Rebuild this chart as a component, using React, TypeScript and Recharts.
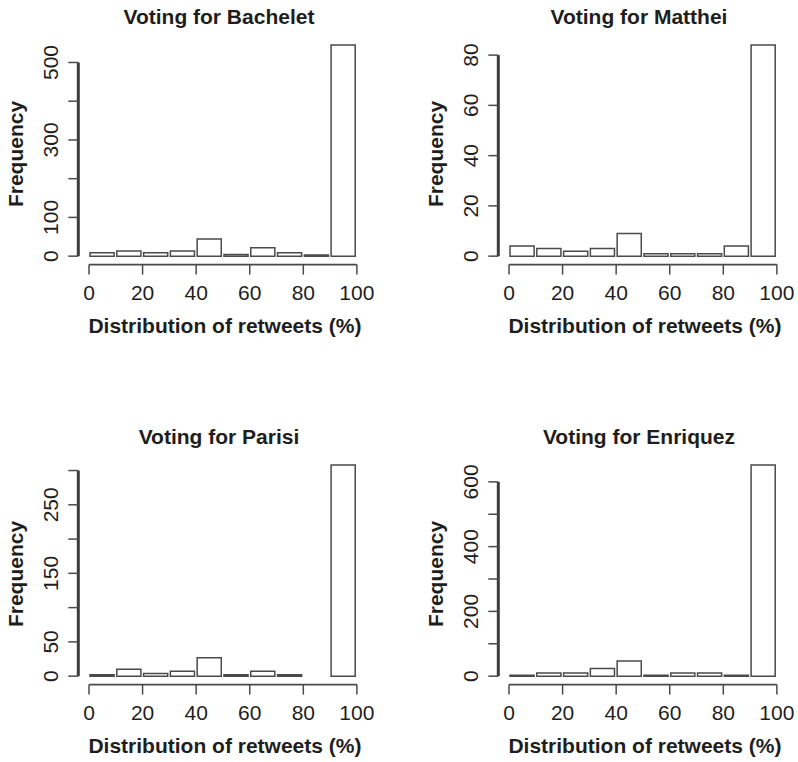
import React from 'react';
import { BarChart, Bar, XAxis, YAxis, ReferenceLine } from 'recharts';

// histogram bins (percent of retweets), given by their centres
const binMids = [5, 15, 25, 35, 45, 55, 65, 75, 85, 95];
const xTicks = [0, 20, 40, 60, 80, 100];

// frequencies
const bacheletCounts = [9, 13, 9, 13, 44, 4, 22, 9, 3, 545];
const mattheiCounts = [4, 3, 2, 3, 9, 1, 1, 1, 4, 84];
const parisiCounts = [2, 10, 4, 7, 27, 2, 7, 2, 0, 308];
const enriquezCounts = [3, 10, 10, 24, 47, 3, 10, 10, 3, 652];

// y ticks, and which of them R printed a label for
const bacheletTicks = [0, 100, 200, 300, 400, 500];
const bacheletLabels = [0, 100, 300, 500];
const mattheiTicks = [0, 20, 40, 60, 80];
const mattheiLabels = [0, 20, 40, 60, 80];
const parisiTicks = [0, 50, 100, 150, 200, 250, 300];
const parisiLabels = [0, 50, 150, 250];
const enriquezTicks = [0, 100, 200, 300, 400, 500, 600];
const enriquezLabels = [0, 200, 400, 600];

const FONT = '"Liberation Sans", Arial, Helvetica, sans-serif';
const INK = '#1e1e1e';
const LINE = '#4a4a4a';

const CHART_W = 378;
const CHART_H = 342;
const PLOT_LEFT = 78.3;
const PLOT_TOP = 36.6;
const PLOT_W = 289.3;
const PLOT_H = 228;
const XAXIS_H = 60;
const BIN_PX = (PLOT_W * 10) / 108;

function Panel({ title, counts, yTicks, yLabels, left, top }: any) {
  const data = binMids.map((mid, i) => ({ mid, count: counts[i] }));
  const maxCount = Math.max(...counts);
  const yMin = -0.04 * maxCount;
  const yMax = 1.04 * maxCount;
  const topTick = yTicks[yTicks.length - 1];

  // R prints only the tick labels that fit; the others keep their tick mark
  const yTick = (props: any) => {
    const { x, y, payload } = props;
    if (!yLabels.includes(payload.value)) return <g />;
    return (
      <text
        x={x}
        y={y}
        transform={`rotate(-90, ${x}, ${y})`}
        textAnchor="middle"
        fontFamily={FONT}
        fontSize={21}
        fill={INK}
      >
        {payload.value}
      </text>
    );
  };

  const cx = PLOT_LEFT + PLOT_W / 2;

  return (
    <div style={{ position: 'absolute', left, top, width: CHART_W, height: CHART_H }}>
      <BarChart
        width={CHART_W}
        height={CHART_H}
        data={data}
        margin={{ top: PLOT_TOP, right: CHART_W - PLOT_LEFT - PLOT_W, bottom: CHART_H - PLOT_TOP - PLOT_H - XAXIS_H, left: 0 }}
        barCategoryGap={0}
        barGap={0}
      >
        <XAxis
          dataKey="mid"
          type="number"
          domain={[-4, 104]}
          allowDataOverflow
          ticks={xTicks}
          interval={0}
          height={XAXIS_H}
          axisLine={false}
          tickLine={{ stroke: LINE, strokeWidth: 1.5 }}
          tickSize={10}
          tickMargin={10}
          tick={{ fontSize: 21, fontFamily: FONT, fill: INK }}
        />
        <YAxis
          type="number"
          domain={[yMin, yMax]}
          allowDataOverflow
          ticks={yTicks}
          interval={0}
          width={PLOT_LEFT}
          axisLine={false}
          tickLine={{ stroke: LINE, strokeWidth: 1.5 }}
          tickSize={10}
          tickMargin={10}
          tick={yTick}
        />
        <Bar
          dataKey="count"
          barSize={BIN_PX}
          fill="#ffffff"
          stroke={LINE}
          strokeWidth={1.5}
          isAnimationActive={false}
        />
        {/* axis lines span the tick range only, as in base R */}
        <ReferenceLine
          segment={[{ x: 0, y: yMin }, { x: 100, y: yMin }]}
          stroke={LINE}
          strokeWidth={1.6}
          ifOverflow="visible"
        />
        <ReferenceLine
          segment={[{ x: -4, y: 0 }, { x: -4, y: topTick }]}
          stroke="#3c3c3c"
          strokeWidth={3}
          ifOverflow="visible"
        />
      </BarChart>
      <svg
        width={CHART_W}
        height={CHART_H}
        style={{ position: 'absolute', left: 0, top: 0, pointerEvents: 'none' }}
      >
        <text x={cx - 4} y={23.5} textAnchor="middle" fontFamily={FONT} fontSize={21} fontWeight="bold" fill={INK}>
          {title}
        </text>
        <text x={cx + 2} y={333} textAnchor="middle" fontFamily={FONT} fontSize={21} fontWeight="bold" fill={INK}>
          Distribution of retweets (%)
        </text>
        <text
          x={22.5}
          y={154}
          transform="rotate(-90, 22.5, 154)"
          textAnchor="middle"
          fontFamily={FONT}
          fontSize={21}
          fontWeight="bold"
          fill={INK}
        >
          Frequency
        </text>
      </svg>
    </div>
  );
}

export default function App() {
  return (
    <div style={{ position: 'absolute', left: 0, top: 0, width: 798, height: 762, background: '#fff' }}>
      <Panel title="Voting for Bachelet" counts={bacheletCounts} yTicks={bacheletTicks} yLabels={bacheletLabels} left={0} top={0} />
      <Panel title="Voting for Matthei" counts={mattheiCounts} yTicks={mattheiTicks} yLabels={mattheiLabels} left={420} top={0} />
      <Panel title="Voting for Parisi" counts={parisiCounts} yTicks={parisiTicks} yLabels={parisiLabels} left={0} top={420} />
      <Panel title="Voting for Enriquez" counts={enriquezCounts} yTicks={enriquezTicks} yLabels={enriquezLabels} left={420} top={420} />
    </div>
  );
}
